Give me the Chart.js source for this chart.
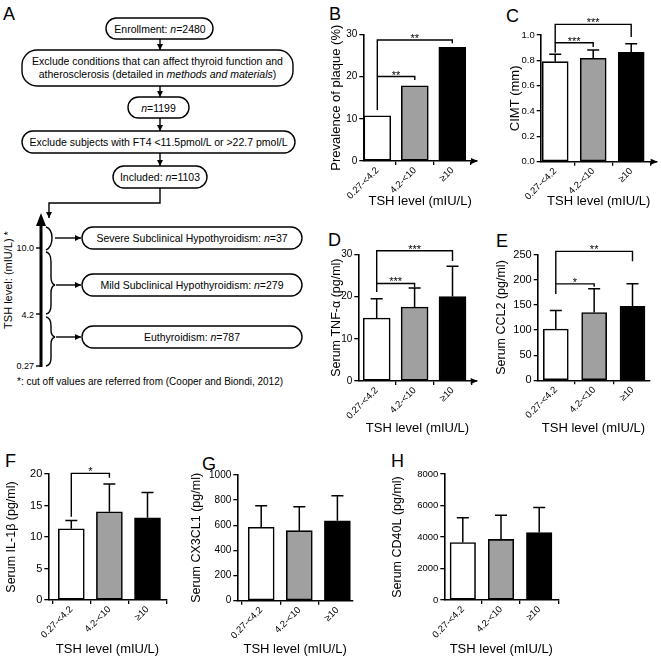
<!DOCTYPE html>
<html><head><meta charset="utf-8">
<script src="https://cdn.jsdelivr.net/npm/chart.js@4.4.1/dist/chart.umd.min.js"></script>
<style>
html,body{margin:0;padding:0;background:#fff;width:661px;height:663px;overflow:hidden;}
#wrap{position:relative;width:661px;height:663px;}
canvas{position:absolute;left:0;top:0;}
svg{position:absolute;left:0;top:0;}
</style></head>
<body><div id="wrap">
<svg id="flow" width="661" height="663" font-family="'Liberation Sans', Arial, sans-serif" fill="#000">
<defs>
<marker id="ah" viewBox="0 0 10 10" refX="10" refY="5" markerUnits="userSpaceOnUse" markerWidth="6" markerHeight="6" orient="auto"><path d="M0,0 L10,5 L0,10 z" fill="#000"/></marker>
</defs>
<g font-size="18"><text x="3" y="20">A</text><text x="329" y="20">B</text><text x="506" y="22">C</text><text x="328" y="246">D</text><text x="496" y="247">E</text><text x="5" y="467">F</text><text x="202" y="470">G</text><text x="391" y="467">H</text></g>
<g fill="none" stroke="#000" stroke-width="1.4">
<rect x="106" y="18" width="107" height="21" rx="10.5"/>
<rect x="22" y="50" width="271" height="36" rx="15"/>
<rect x="128" y="97" width="61" height="21" rx="10.5"/>
<rect x="22" y="131" width="273" height="22" rx="11"/>
<rect x="113" y="166" width="94" height="22" rx="11"/>
<rect x="82" y="227" width="220" height="22" rx="11"/>
<rect x="82" y="274" width="220" height="22" rx="11"/>
<rect x="82" y="326" width="220" height="22" rx="11"/>
<line x1="160" y1="39" x2="160" y2="50" marker-end="url(#ah)"/>
<line x1="160" y1="86" x2="160" y2="97" marker-end="url(#ah)"/>
<line x1="160" y1="118" x2="160" y2="131" marker-end="url(#ah)"/>
<line x1="160" y1="153" x2="160" y2="166" marker-end="url(#ah)"/>
<polyline points="160,188 160,203 49,203 49,218" marker-end="url(#ah)"/>
<line x1="55" y1="238" x2="81" y2="238" marker-end="url(#ah)"/>
<line x1="56" y1="285" x2="81" y2="285" marker-end="url(#ah)"/>
<line x1="56" y1="337" x2="81" y2="337" marker-end="url(#ah)"/>
<path d="M46,227 Q52,229 52,238 Q52,247 46,250"/>
<path d="M46,252 Q51,253 51,262 L51,277 Q51,284 55,285 Q51,286 51,293 L51,305 Q51,313 46,314"/>
<path d="M46,317 Q51,318 51,326 L51,330 Q51,336 55,337 Q51,338 51,344 L51,358 Q51,365 46,366"/>
<line x1="36" y1="248" x2="41" y2="248"/>
<line x1="36" y1="314" x2="41" y2="314"/>
<line x1="36" y1="366" x2="41" y2="366"/>
</g>
<line x1="41" y1="367" x2="41" y2="224" stroke="#000" stroke-width="3"/>
<path d="M36,226 L46,226 L41,213 z" fill="#000"/>
<g font-size="10.5" text-anchor="middle">
<text x="160" y="32.5">Enrollment: <tspan font-style="italic">n</tspan>=2480</text>
<text x="157.5" y="65">Exclude conditions that can affect thyroid function and</text>
<text x="157.5" y="78">atherosclerosis (detailed in <tspan font-style="italic">methods and materials</tspan>)</text>
<text x="158.5" y="111.5"><tspan font-style="italic">n</tspan>=1199</text>
<text x="158.5" y="146">Exclude subjects with FT4 &lt;11.5pmol/L or &gt;22.7 pmol/L</text>
<text x="160" y="181">Included: <tspan font-style="italic">n</tspan>=1103</text>
<text x="192" y="241.5">Severe Subclinical Hypothyroidism: <tspan font-style="italic">n</tspan>=37</text>
<text x="192" y="288.5">Mild Subclinical Hypothyroidism: <tspan font-style="italic">n</tspan>=279</text>
<text x="192" y="340.5">Euthyroidism: <tspan font-style="italic">n</tspan>=787</text>
</g>
<g font-size="9" text-anchor="end">
<text x="34" y="251">10.0</text><text x="34" y="317.5">4.2</text><text x="34" y="369">0.27</text>
</g>
<text font-size="11" text-anchor="middle" transform="translate(12,280) rotate(-90)">TSH level: (mIU/L) *</text>
<text font-size="10" x="17" y="385">*: cut off values are referred from (Cooper and Biondi, 2012)</text>
</svg>
</div>
<script>
// ---- data ----
const categories = ['0.27-<4.2', '4.2-<10', '≥10'];
const plaquePct = [10.7, 17.8, 26.9];
const cimtMean = [0.79, 0.816, 0.863];
const cimtSD = [0.058, 0.066, 0.068];
const tnfMean = [14.9, 17.5, 20.0];
const tnfSD = [4.6, 4.5, 7.2];
const ccl2Mean = [102, 135, 147];
const ccl2SD = [37, 47, 45];
const il1Mean = [11.3, 14.0, 13.05];
const il1SD = [1.3, 4.4, 4.0];
const cx3Mean = [584, 557, 636];
const cx3SD = [172, 191, 199];
const cd40Mean = [3650, 3850, 4280];
const cd40SD = [1580, 1530, 1600];
// brackets: [from, to, level, left leg end, right leg end, label]
const plaqueBrackets = [[0, 1, 20.0, 12.1, 19.2, '**'], [0, 2, 28.65, 20.0, 27.9, '**']];
const cimtBrackets = [[0, 1, 0.939, 0.86, 0.905, '***'], [0, 2, 1.084, 0.939, 0.985, '***']];
const tnfBrackets = [[0, 1, 23.1, 21.1, 22.2, '***'], [0, 2, 30.85, 23.1, 28.4, '***']];
const ccl2Brackets = [[0, 1, 192, 172, 186, '*'], [0, 2, 256.7, 192, 237, '**']];
const il1Brackets = [[0, 1, 20.1, 13.2, 19.4, '*']];

const FONT = "'Liberation Sans', Arial, sans-serif";
const fills = ['#ffffff', '#a0a0a0', '#000000'];
const wrap = document.getElementById('wrap');

const overlay = {
  id: 'overlay',
  afterDatasetsDraw(chart, args, o) {
    const ctx = chart.ctx, ys = chart.scales.y, meta = chart.getDatasetMeta(0);
    ctx.save();
    ctx.strokeStyle = '#000'; ctx.fillStyle = '#000'; ctx.lineWidth = 1.5;
    if (o.sd) {
      meta.data.forEach((el, i) => {
        const t = ys.getPixelForValue(o.mean[i] + o.sd[i]);
        ctx.beginPath();
        ctx.moveTo(el.x, el.y); ctx.lineTo(el.x, t);
        ctx.moveTo(el.x - 6, t); ctx.lineTo(el.x + 6, t);
        ctx.stroke();
      });
    }
    ctx.lineWidth = 1.4;
    (o.brackets || []).forEach(b => {
      const x1 = meta.data[b[0]].x, x2 = meta.data[b[1]].x;
      const yh = ys.getPixelForValue(b[2]);
      ctx.beginPath();
      ctx.moveTo(x1, ys.getPixelForValue(b[3])); ctx.lineTo(x1, yh);
      ctx.lineTo(x2, yh); ctx.lineTo(x2, ys.getPixelForValue(b[4]));
      ctx.stroke();
      ctx.font = '11px ' + FONT; ctx.textAlign = 'center'; ctx.textBaseline = 'alphabetic';
      ctx.fillText(b[5], (x1 + x2) / 2, yh + 2);
    });
    if (o.arrow) {
      const a = chart.chartArea;
      ctx.beginPath();
      ctx.moveTo(a.right + 1, a.bottom); ctx.lineTo(a.right - 6, a.bottom - 3); ctx.lineTo(a.right - 6, a.bottom + 3);
      ctx.closePath(); ctx.fill();
    }
    ctx.restore();
  }
};

function panel(p) {
  const cv = document.createElement('canvas');
  cv.width = 661; cv.height = 663;
  cv.style.width = '661px'; cv.style.height = '663px';
  wrap.appendChild(cv);
  const g = p.geo;
  const yTitleSize = p.yTitleSize || 12.5;
  const xOff = 13 * 1.2 / 2, yOff = yTitleSize * 1.2 / 2;
  const xmin = (g.axisX - g.c0) / g.step, xmax = (g.right - g.c0) / g.step;
  const yLeft = g.yTitleX - yOff, yW = g.axisX - yLeft;
  const xBottom = g.xTitleY + xOff, xH = xBottom - g.bottom;
  const gridOpt = {display: true, drawOnChartArea: false, drawTicks: true, tickLength: 4, color: '#000', lineWidth: 1.3};
  const borderOpt = {display: true, color: '#000', width: 1.6};
  new Chart(cv, {
    type: 'bar',
    data: {datasets: [{
      data: categories.map((c, i) => ({x: i, y: p.mean[i]})),
      backgroundColor: fills, borderColor: '#000', borderWidth: 1.6,
      barThickness: g.barW, borderSkipped: false
    }]},
    options: {
      responsive: false, animation: false,
      layout: {padding: {left: yLeft, top: g.top, right: 661 - g.right, bottom: 663 - xBottom}},
      plugins: {legend: {display: false}, tooltip: {enabled: false},
        overlay: {mean: p.mean, sd: p.sd, brackets: p.brackets, arrow: g.arrow}},
      scales: {
        x: {type: 'linear', min: xmin, max: xmax, offset: false,
          afterBuildTicks: s => { s.ticks = categories.map((c, i) => ({value: i})); },
          afterFit: s => { s.height = xH; },
          ticks: {callback: v => categories[v] ?? '', minRotation: 45, maxRotation: 45, autoSkip: false,
            font: {family: FONT, size: 9.5}, color: '#000', padding: 0},
          grid: gridOpt, border: borderOpt,
          title: {display: true, text: 'TSH level (mIU/L)', font: {family: FONT, size: 13}, color: '#000', padding: 0}},
        y: {type: 'linear', min: 0, max: g.ymax,
          afterFit: s => { s.width = yW; },
          ticks: {stepSize: g.ystep, font: {family: FONT, size: g.tickFont || 10}, color: '#000', padding: 2,
            callback: p.fmt || (v => v)},
          grid: gridOpt, border: borderOpt,
          title: {display: true, text: p.ytitle, font: {family: FONT, size: yTitleSize}, color: '#000', padding: 0}}
      }
    },
    plugins: [overlay]
  });
}

panel({ytitle: 'Prevalence of plaque (%)', mean: plaquePct, brackets: plaqueBrackets, yTitleSize: 13,
  geo: {axisX: 363.3, c0: 377.3, step: 37.5, right: 477, top: 34.3, bottom: 161, ymax: 30, ystep: 10, yTitleX: 336, xTitleY: 201, barW: 27, arrow: true, tickFont: 10}});
panel({ytitle: 'CIMT (mm)', mean: cimtMean, sd: cimtSD, brackets: cimtBrackets, fmt: v => v.toFixed(1), yTitleSize: 13,
  geo: {axisX: 540.7, c0: 555.2, step: 38, right: 656.7, top: 35, bottom: 161.7, ymax: 1, ystep: 0.2, yTitleX: 515, xTitleY: 201, barW: 26, arrow: true, tickFont: 9.5}});
panel({ytitle: 'Serum TNF-α (pg/ml)', mean: tnfMean, sd: tnfSD, brackets: tnfBrackets,
  geo: {axisX: 358.3, c0: 376.7, step: 37.9, right: 476.7, top: 254.3, bottom: 381, ymax: 30, ystep: 10, yTitleX: 337, xTitleY: 428, barW: 27, arrow: true, tickFont: 10}});
panel({ytitle: 'Serum CCL2 (pg/ml)', mean: ccl2Mean, sd: ccl2SD, brackets: ccl2Brackets,
  geo: {axisX: 537.7, c0: 555.8, step: 38.35, right: 649.3, top: 254.7, bottom: 380.3, ymax: 250, ystep: 50, yTitleX: 502, xTitleY: 428, barW: 25, tickFont: 11}});
panel({ytitle: 'Serum IL-1β (pg/ml)', mean: il1Mean, sd: il1SD, brackets: il1Brackets,
  geo: {axisX: 48.3, c0: 71.3, step: 38.1, right: 166.7, top: 474, bottom: 600, ymax: 20, ystep: 5, yTitleX: 12, xTitleY: 649, barW: 26, tickFont: 11}});
panel({ytitle: 'Serum CX3CL1 (pg/ml)', mean: cx3Mean, sd: cx3SD,
  geo: {axisX: 237.3, c0: 261.2, step: 38.1, right: 353, top: 475, bottom: 600.7, ymax: 1000, ystep: 200, yTitleX: 197, xTitleY: 649, barW: 26, tickFont: 10}});
panel({ytitle: 'Serum CD40L (pg/ml)', mean: cd40Mean, sd: cd40SD,
  geo: {axisX: 444.3, c0: 462.8, step: 38.2, right: 558.3, top: 474, bottom: 600, ymax: 8000, ystep: 2000, yTitleX: 398, xTitleY: 649, barW: 25.5, tickFont: 9.5}});
</script>
</body></html>
